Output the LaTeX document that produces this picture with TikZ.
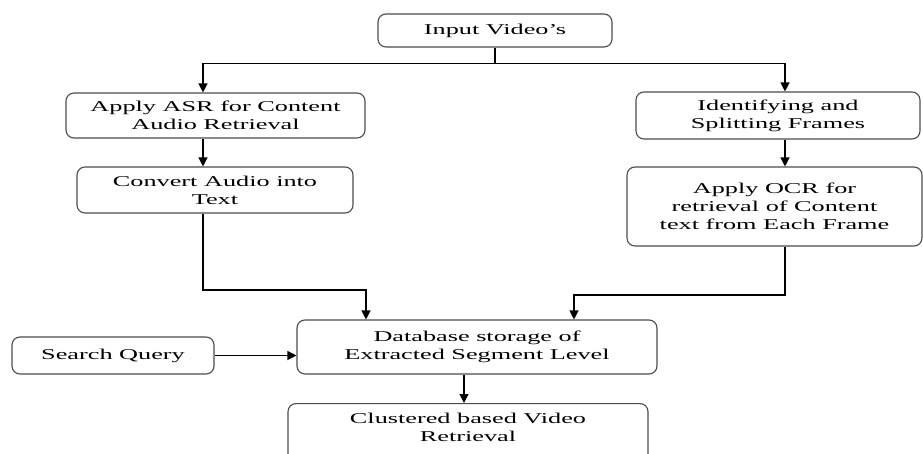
\documentclass[tikz,border=0pt]{standalone}
\usepackage{fontspec}
\setmainfont{Liberation Serif}[FakeStretch=1.75]
\usetikzlibrary{arrows.meta}
\begin{document}
\begin{tikzpicture}[x=1pt,y=-1pt,
  box/.style={draw=black!70, line width=1.1pt, rounded corners=8pt, align=center,
     inner sep=0pt, font=\fontsize{15}{18}\selectfont},
  lbl/.style={align=center, inner sep=0pt, font=\fontsize{15}{18}\selectfont},
  arr/.style={draw=black, line width=1.2pt, -{Triangle[length=9pt,width=9pt]}},
  ln/.style={draw=black, line width=1.2pt}]
\clip (0,0) rectangle (923,454);
\fill[white] (0,0) rectangle (923,454);
% columns and rows
\coordinate (cL) at (203,0);
\coordinate (cR) at (785,0);
\coordinate (cD1) at (366,0);
\coordinate (cD2) at (574,0);
\coordinate (cM) at (464,0);
\coordinate (yL) at (0,290);
\coordinate (yR) at (0,295);
% nodes
\node[box, minimum width=234, minimum height=33] (vid) at (495,30.5) {Input Video's};
\node[box, minimum width=299, minimum height=45] (asr) at (215.5,115.5) {Apply ASR for Content\\Audio Retrieval};
\node[box, minimum width=276, minimum height=46] (conv) at (215,190) {Convert Audio into\\Text};
\node[box, minimum width=284, minimum height=47] (ident) at (778,115.5) {Identifying and\\Splitting Frames};
\node[box, minimum width=295, minimum height=79] (ocr) at (774.5,206.5) {Apply OCR for\\retrieval of Content\\text from Each Frame};
\node[box, minimum width=360, minimum height=54] (db) at (477,347) {Database storage of\\Extracted Segment Level};
\node[box, minimum width=202, minimum height=37] (sq) at (113,355.5) {Search Query};
\node[box, minimum width=360, minimum height=80, anchor=north] (clubox) at (468,403) {};
\node[lbl] (clu) at (468,427) {Clustered based Video\\Retrieval};
% connectors
\draw[ln] (vid.south) -- ++(0,16) coordinate (j);
\draw[arr] (j) -| (asr.north -| cL);
\draw[arr] (j) -| (ident.north -| cR);
\draw[arr] (asr.south -| cL) -- (conv.north -| cL);
\draw[arr] (ident.south -| cR) -- (ocr.north -| cR);
\draw[arr] (conv.south -| cL) -- (yL -| cL) -- (yL -| cD1) -- (db.north -| cD1);
\draw[arr] (ocr.south -| cR) -- (yR -| cR) -- (yR -| cD2) -- (db.north -| cD2);
\draw[arr] (sq.east) -- (sq.east -| db.west);
\draw[arr] (db.south -| cM) -- (clubox.north -| cM);
\end{tikzpicture}
\end{document}
